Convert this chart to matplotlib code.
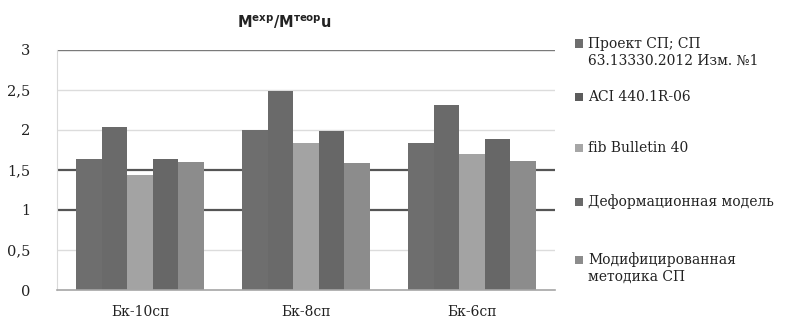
import numpy as np
import matplotlib
matplotlib.use("Agg")
import matplotlib.pyplot as plt
from matplotlib.patches import Rectangle

# bending moment ratio per beam, for each design method
categories = ["Бк-10сп", "Бк-8сп", "Бк-6сп"]
series_names = [
    "Проект СП; СП\n63.13330.2012 Изм. №1",
    "ACI 440.1R-06",
    "fib Bulletin 40",
    "Деформационная модель",
    "Модифицированная\nметодика СП",
]
sp_project = [1.63, 2.00, 1.83]
aci = [2.03, 2.48, 2.31]
fib = [1.44, 1.83, 1.70]
deform_model = [1.64, 1.98, 1.88]
sp_modified = [1.60, 1.59, 1.61]
yticks = [0, 0.5, 1, 1.5, 2, 2.5, 3]
ytick_labels = ["0", "0,5", "1", "1,5", "2", "2,5", "3"]

series = [sp_project, aci, fib, deform_model, sp_modified]
bar_colors = ["#6e6e6e", "#6a6a6a", "#a3a3a3", "#676767", "#8c8c8c"]
legend_colors = ["#6e6e6e", "#5c5c5c", "#a6a6a6", "#6a6a6a", "#8c8c8c"]
# gridline shade for each y tick
grid_colors = {0.5: "#dcdcdc", 1: "#555555", 1.5: "#555555",
               2: "#dcdcdc", 2.5: "#dcdcdc", 3: "#7a7a7a"}

serif = "DejaVu Serif"

fig = plt.figure(figsize=(7.88, 3.2), dpi=100)
ax = fig.add_axes([57 / 788, 30 / 320, 498 / 788, 240.5 / 320])

x = np.arange(len(categories))
w = 0.154
for i, (vals, c) in enumerate(zip(series, bar_colors)):
    ax.bar(x + (i - 2) * w, vals, width=w, color=c, zorder=2, linewidth=0)

for level, c in grid_colors.items():
    lw = 1.6 if c == "#555555" else 1.0
    ax.axhline(level, color=c, linewidth=lw, zorder=1)

ax.set_xlim(-0.5, 2.5)
ax.set_ylim(0, 3)
ax.set_yticks(yticks)
ax.set_yticklabels(ytick_labels, fontfamily=serif, fontsize=10.5)
ax.set_xticks(x)
ax.set_xticklabels(categories, fontfamily=serif, fontsize=10)
ax.tick_params(axis="both", length=0, colors="#222222")
ax.tick_params(axis="y", pad=19)
ax.tick_params(axis="x", pad=11)
for side in ["top", "right"]:
    ax.spines[side].set_visible(False)
ax.spines["left"].set_color("#d9d9d9")
ax.spines["bottom"].set_color("#a6a6a6")
ax.spines["bottom"].set_linewidth(1.2)
ax.spines["bottom"].set_zorder(3)

# title with superscripts
fig.text(284 / 788, 1 - 22 / 320, r"M$^{\mathbf{exp}}$/M$^{\mathbf{теор}}$u",
         ha="center", va="center", fontsize=10.5, fontweight="bold", color="#222222")

# legend at the right
legend_y = [52, 97, 148, 202, 268]
for name, c, yc in zip(series_names, legend_colors, legend_y):
    first_line = yc - (8.5 if "\n" in name else 0)
    fig.patches.append(Rectangle((575 / 788, 1 - (first_line + 4) / 320),
                                 8 / 788, 8 / 320, transform=fig.transFigure,
                                 facecolor=c, edgecolor="none"))
    fig.text(588 / 788, 1 - yc / 320, name, ha="left", va="center",
             fontfamily=serif, fontsize=10, color="#222222", linespacing=1.25)

fig.savefig("out.png", dpi=100, facecolor="white")
